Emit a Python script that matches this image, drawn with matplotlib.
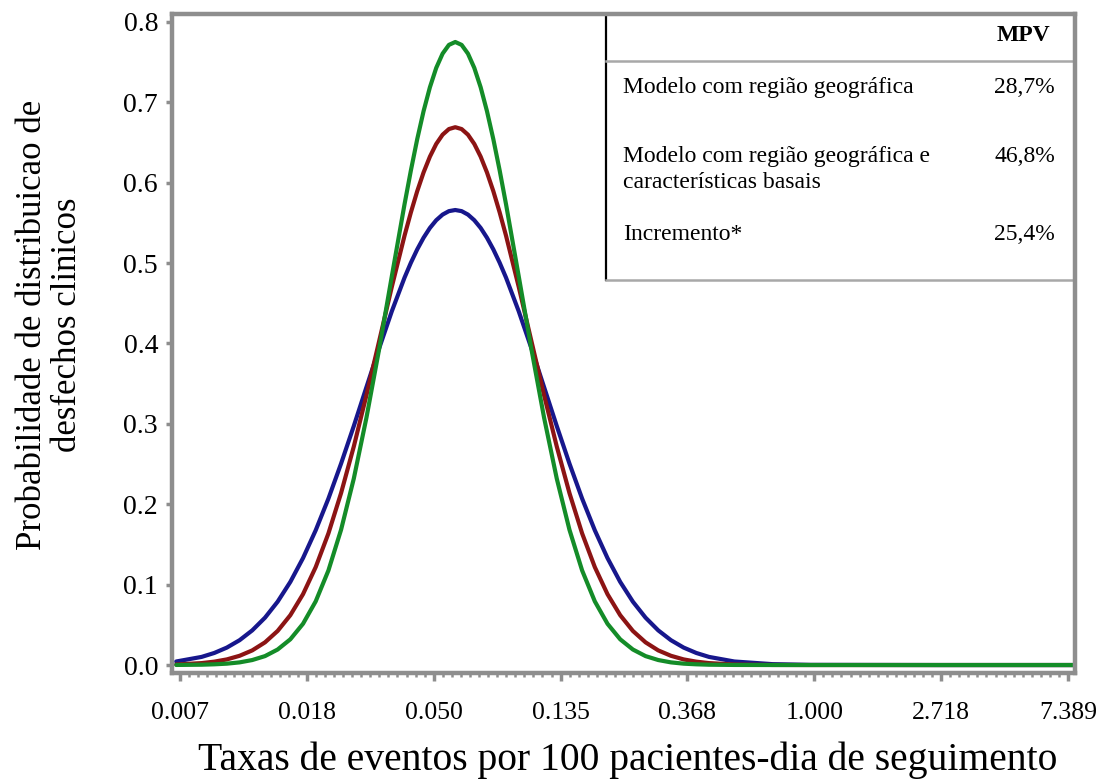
import numpy as np
import matplotlib
matplotlib.use("Agg")
import matplotlib.pyplot as plt
from matplotlib.ticker import FixedLocator, NullFormatter

# Event rate per 100 patient-days (x axis, log scale)
taxa = [0.00654, 0.00799, 0.00883, 0.00975, 0.01078, 0.01191, 0.01317, 0.01455,
        0.01608, 0.01777, 0.01964, 0.02171, 0.02399, 0.02652, 0.02930, 0.03239,
        0.03579, 0.03956, 0.04159, 0.04372, 0.04596, 0.04832, 0.05079, 0.05340,
        0.05613, 0.05901, 0.06204, 0.06522, 0.06856, 0.07208, 0.07577, 0.07966,
        0.08374, 0.08804, 0.09730, 0.10753, 0.11884, 0.13134, 0.14515, 0.16041,
        0.17728, 0.19593, 0.21654, 0.23931, 0.26448, 0.29229, 0.32303, 0.35701,
        0.39455, 0.43605, 0.53259, 0.71892, 0.97045, 2.63794, 7.69061]

# Probability of clinical outcomes for each model
dens_verde = [0.0001, 0.0004, 0.0009, 0.0017, 0.0033, 0.0062, 0.0111, 0.0193,
              0.0320, 0.0513, 0.0792, 0.1176, 0.1683, 0.2319, 0.3077, 0.3931,
              0.4837, 0.5732, 0.6152, 0.6541, 0.6889, 0.7187, 0.7428, 0.7605,
              0.7714, 0.7750, 0.7714, 0.7605, 0.7428, 0.7187, 0.6889, 0.6541,
              0.6152, 0.5732, 0.4837, 0.3931, 0.3077, 0.2319, 0.1683, 0.1176,
              0.0792, 0.0513, 0.0320, 0.0193, 0.0111, 0.0062, 0.0033, 0.0017,
              0.0009, 0.0004, 0.0001, 0.0000, 0.0000, 0.0000, 0.0000]
dens_vermelho = [0.0007, 0.0024, 0.0042, 0.0070, 0.0115, 0.0182, 0.0282, 0.0424,
                 0.0620, 0.0881, 0.1218, 0.1637, 0.2139, 0.2718, 0.3356, 0.4030,
                 0.4705, 0.5341, 0.5630, 0.5894, 0.6127, 0.6324, 0.6482, 0.6597,
                 0.6667, 0.6690, 0.6667, 0.6597, 0.6482, 0.6324, 0.6127, 0.5894,
                 0.5630, 0.5341, 0.4705, 0.4030, 0.3356, 0.2718, 0.2139, 0.1637,
                 0.1218, 0.0881, 0.0620, 0.0424, 0.0282, 0.0182, 0.0115, 0.0070,
                 0.0042, 0.0024, 0.0007, 0.0001, 0.0000, 0.0000, 0.0000]
dens_azul = [0.0044, 0.0101, 0.0150, 0.0217, 0.0309, 0.0431, 0.0589, 0.0788,
             0.1034, 0.1330, 0.1676, 0.2070, 0.2506, 0.2973, 0.3457, 0.3940,
             0.4401, 0.4819, 0.5004, 0.5170, 0.5315, 0.5437, 0.5533, 0.5603,
             0.5646, 0.5660, 0.5646, 0.5603, 0.5533, 0.5437, 0.5315, 0.5170,
             0.5004, 0.4819, 0.4401, 0.3940, 0.3457, 0.2973, 0.2506, 0.2070,
             0.1676, 0.1330, 0.1034, 0.0788, 0.0589, 0.0431, 0.0309, 0.0217,
             0.0150, 0.0101, 0.0044, 0.0011, 0.0002, 0.0000, 0.0000]

xtick_labels = ["0.007", "0.018", "0.050", "0.135", "0.368", "1.000", "2.718", "7.389"]
ytick_values = [0.0, 0.1, 0.2, 0.3, 0.4, 0.5, 0.6, 0.7, 0.8]

tabela_linhas = ["Modelo com região geográfica",
                 "Modelo com região geográfica e\ncaracterísticas basais",
                 "Incremento*"]
tabela_mpv = ["28,7%", "46,8%", "25,4%"]

plt.rcParams["font.family"] = ["Liberation Serif", "DejaVu Serif"]

fig = plt.figure(figsize=(11.11, 7.83), dpi=100)
ax = fig.add_axes([0.1548, 0.1405, 0.8128, 0.8416])

frame_gray = "#8e8e8e"
for dens, cor in [(dens_azul, "#17178c"), (dens_vermelho, "#8c1414"),
                  (dens_verde, "#148c28")]:
    ax.plot(taxa, dens, color=cor, lw=3.0, solid_capstyle="round",
            solid_joinstyle="round")

ax.set_xscale("log")
ax.set_xlim(np.exp(-5.063), np.exp(2.055))
ax.set_ylim(-0.0099, 0.8098)

major_x = np.exp(np.arange(-5, 3))
ax.xaxis.set_major_locator(FixedLocator(major_x))
ax.set_xticklabels(xtick_labels)
ax.xaxis.set_minor_locator(FixedLocator(np.exp(np.arange(-5.0, 2.06, 1 / 14))))
ax.xaxis.set_minor_formatter(NullFormatter())
ax.set_yticks(ytick_values)
ax.set_yticklabels([f"{v:.1f}" for v in ytick_values])

ax.tick_params(axis="x", which="major", length=6, width=2.5, color=frame_gray,
               pad=15, labelsize=18.5)
ax.tick_params(axis="x", which="minor", length=3, width=1.8, color=frame_gray)
ax.tick_params(axis="y", which="major", length=4, width=2.5, color=frame_gray,
               pad=6, labelsize=20)

for sp in ax.spines.values():
    sp.set_color(frame_gray)
    sp.set_linewidth(3.2)

# MPV summary table in the upper right corner
tx0 = 0.4806
ty0 = 0.5964
ax.plot([tx0, tx0], [ty0, 1.0], transform=ax.transAxes, color="black", lw=1.6,
        clip_on=False)
ax.plot([tx0, 1.0], [ty0, ty0], transform=ax.transAxes, color="#a8a8a8", lw=1.8,
        clip_on=False)
ax.plot([tx0, 1.0], [0.9287, 0.9287], transform=ax.transAxes, color="#a8a8a8",
        lw=1.8, clip_on=False)
ax.text(0.9424, 0.968, "MPV", transform=ax.transAxes, ha="center", va="center",
        fontsize=17, fontweight="bold")
row_baselines = [0.880, 0.7754, 0.657]
for nome, mpv, yb in zip(tabela_linhas, tabela_mpv, row_baselines):
    partes = nome.split("\n")
    for k, parte in enumerate(partes):
        ax.text(0.4994, yb - 0.0394 * k, parte, transform=ax.transAxes,
                ha="left", va="baseline", fontsize=17)
    ax.text(0.9779, yb, mpv, transform=ax.transAxes, ha="right", va="baseline",
            fontsize=17)

fig.text(0.565, 0.029, "Taxas de eventos por 100 pacientes-dia de seguimento",
         ha="center", va="center", fontsize=28.5)
fig.text(0.045, 0.585, "Probabilidade de distribuicao de\ndesfechos clinicos",
         rotation=90, ha="center", va="center", multialignment="center",
         fontsize=25, linespacing=1.05)

fig.savefig("out.png", dpi=100, facecolor="white")
